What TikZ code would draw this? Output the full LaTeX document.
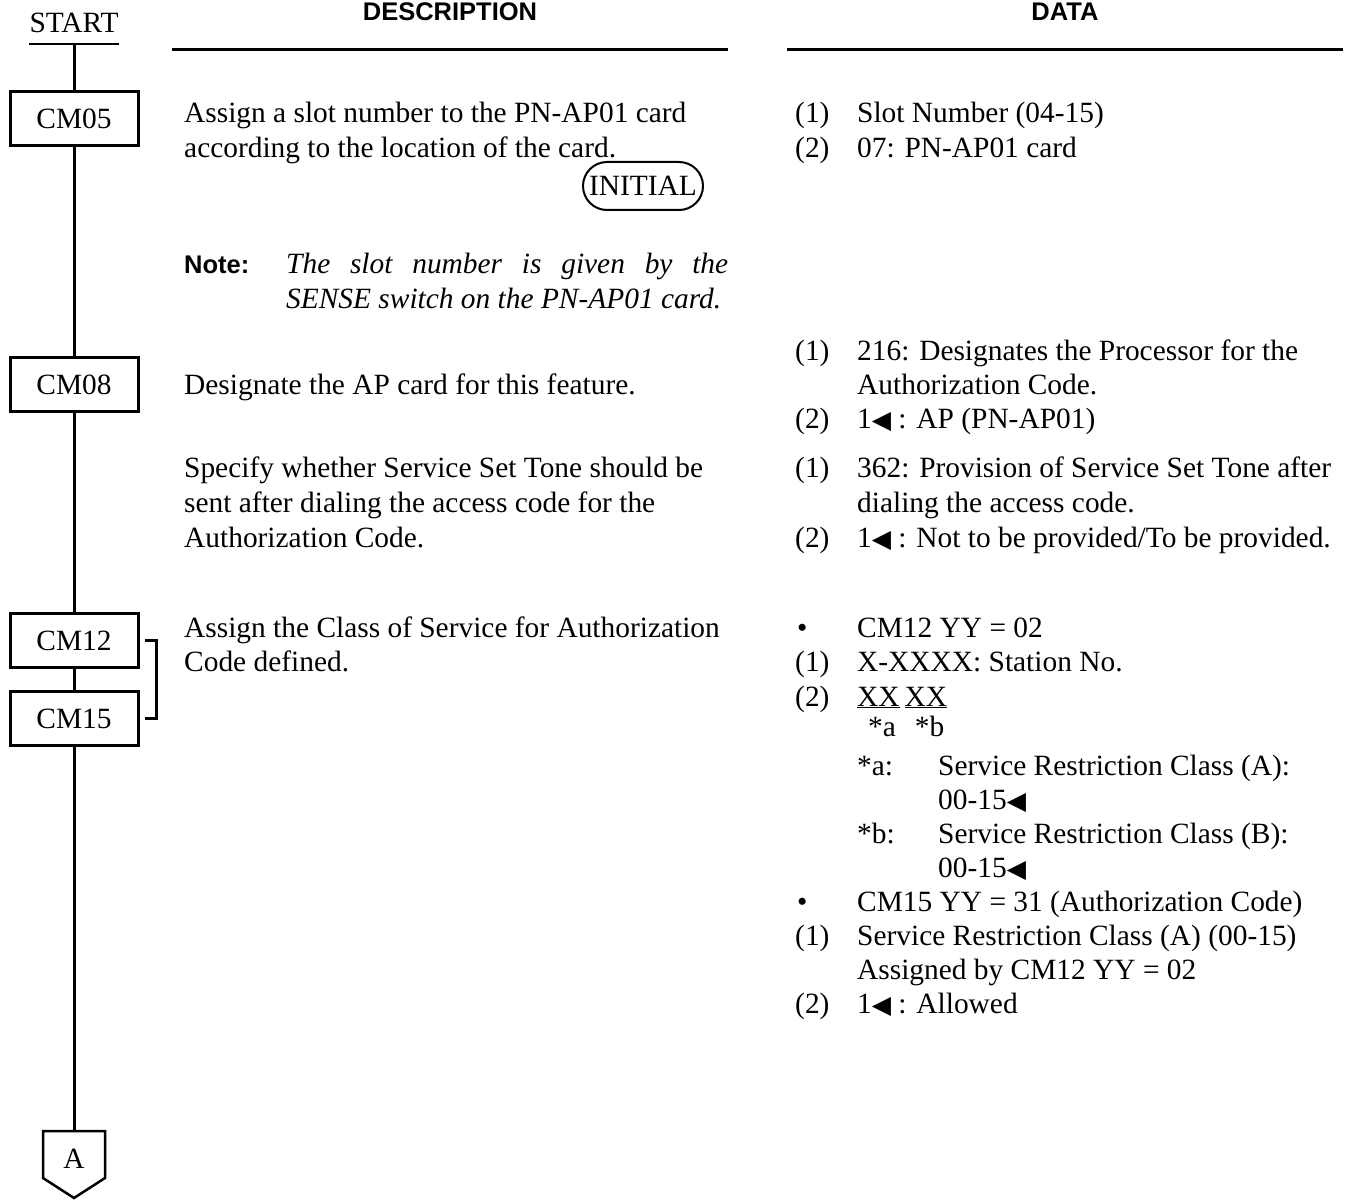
\documentclass[tikz,border=0pt]{standalone}
\usepackage{fontspec}
\setmainfont{Liberation Serif}
\newfontfamily\hdrfont{Liberation Sans}
\newfontfamily\symfont{DejaVu Sans}
\newcommand{\bodyfont}{\fontsize{29.4}{34.5}\selectfont}
\newcommand{\tri}{{\symfont\fontsize{25}{25}\selectfont\char"25C0}}
\tikzset{
  t/.style={anchor=base west, inner sep=0pt, font=\bodyfont},
  ti/.style={anchor=base west, inner sep=0pt, font=\itshape\bodyfont},
  boxn/.style={draw, line width=3pt, fill=white, minimum width=128pt, minimum height=54pt, inner sep=0pt, font=\bodyfont},
  hdr/.style={anchor=base, inner sep=0pt, font=\hdrfont\bfseries\fontsize{25.5}{28}\selectfont},
  hdrl/.style={anchor=base west, inner sep=0pt, font=\hdrfont\bfseries\fontsize{25.5}{28}\selectfont},
  rulel/.style={line width=3pt},
  flow/.style={line width=3pt},
}
\begin{document}
\begin{tikzpicture}[x=1pt,y=-1pt]
\useasboundingbox (0,0) rectangle (1346,1201);
% headers
\node[hdr] (hdesc) at (450,21) {DESCRIPTION};
\node[hdr] (hdata) at (1065,21) {DATA};
\draw[rulel] (172,50) -- (728,50);
\draw[rulel] (787,50) -- (1343,50);
% flow chart
\node[t, anchor=base] (start) at (74,33) {START};
\draw[line width=1.5pt] ([yshift=-11pt]start.base west) -- ([yshift=-11pt]start.base east);
\coordinate (su) at ([yshift=-11pt]start.base);
\node[boxn] (cm05) at (74,118.5) {CM05};
\node[boxn] (cm08) at (74,384.5) {CM08};
\node[boxn] (cm12) at (74,640.5) {CM12};
\node[boxn] (cm15) at (74,718.5) {CM15};
\coordinate (atop) at (74,1131);
\draw[flow] (su) -- (cm05.north);
\draw[flow] (cm05.south) -- (cm08.north);
\draw[flow] (cm08.south) -- (cm12.north);
\draw[flow] (cm12.south) -- (cm15.north);
\draw[flow] (cm15.south) -- (atop);
\draw[line width=2.5pt, line join=miter] (43,1131) -- (105,1131) -- (105,1178) -- (74,1198) -- (43,1178) -- cycle;
\node[t, anchor=base] (pA) at (74,1168) {A};
% bracket
\draw[line width=3pt] ([xshift=5pt]cm12.east) -- ([xshift=17pt]cm12.east) -- ([xshift=17pt]cm15.east) -- ([xshift=5pt]cm15.east);
% description column
\node[t] (d1a) at (184,123) {Assign a slot number to the PN-AP01 card};
\node[t] (d1b) at (184,158) {according to the location of the card.};
\node[draw, line width=2pt, rounded corners=24pt, minimum width=120pt, minimum height=48pt, inner sep=0pt, font=\bodyfont] (init) at (643,186) {INITIAL};
\node[hdrl] (note) at (184,273) {Note:};
\node[ti] (n1) at (286,273) {\makebox[442pt][s]{The slot number is given by the}};
\node[ti] (n2) at (286,308) {SENSE switch on the PN-AP01 card.};
\node[t] (d2) at (184,394) {Designate the AP card for this feature.};
\node[t] (d3a) at (184,477) {Specify whether Service Set Tone should be};
\node[t] (d3b) at (184,512) {sent after dialing the access code for the};
\node[t] (d3c) at (184,547) {Authorization Code.};
\node[t] (d4a) at (184,637) {Assign the Class of Service for Authorization};
\node[t] (d4b) at (184,671) {Code defined.};
% data column
\node[t] (a1n) at (795,123) {(1)};
\node[t] (a1t) at (857,123) {Slot Number (04-15)};
\node[t] (a2n) at (795,158) {(2)};
\node[t] (a2t) at (857,158) {07: PN-AP01 card};
\node[t] (b1n) at (795,360) {(1)};
\node[t] (b1t) at (857,360) {216: Designates the Processor for the};
\node[t] (b1u) at (857,394) {Authorization Code.};
\node[t] (b2n) at (795,428) {(2)};
\node[t] (b2t) at (857,428) {1\tri\ : AP (PN-AP01)};
\node[t] (c1n) at (795,477) {(1)};
\node[t] (c1t) at (857,477) {362: Provision of Service Set Tone after};
\node[t] (c1u) at (857,512) {dialing the access code.};
\node[t] (c2n) at (795,547) {(2)};
\node[t] (c2t) at (857,547) {1\tri\ : Not to be provided/To be provided.};
\node[t] (e0b) at (797,637) {\textbullet};
\node[t] (e0t) at (857,637) {CM12 YY = 02};
\node[t] (e1n) at (795,671) {(1)};
\node[t] (e1t) at (857,671) {X-XXXX: Station No.};
\node[t] (e2n) at (795,706) {(2)};
\node[t] (e2t) at (857,706) {\underline{XX}\,\underline{XX}};
\node[t] (e2s) at (868,736) {*a\hspace{19pt}*b};
\node[t] (ea) at (857,775) {*a:};
\node[t] (eat) at (938,775) {Service Restriction Class (A):};
\node[t] (eav) at (938,809) {00-15\tri};
\node[t] (eb) at (857,843) {*b:};
\node[t] (ebt) at (938,843) {Service Restriction Class (B):};
\node[t] (ebv) at (938,877) {00-15\tri};
\node[t] (f0b) at (797,911) {\textbullet};
\node[t] (f0t) at (857,911) {CM15 YY = 31 (Authorization Code)};
\node[t] (f1n) at (795,945) {(1)};
\node[t] (f1t) at (857,945) {Service Restriction Class (A) (00-15)};
\node[t] (f1u) at (857,979) {Assigned by CM12 YY = 02};
\node[t] (f2n) at (795,1013) {(2)};
\node[t] (f2t) at (857,1013) {1\tri\ : Allowed};
\end{tikzpicture}
\end{document}
